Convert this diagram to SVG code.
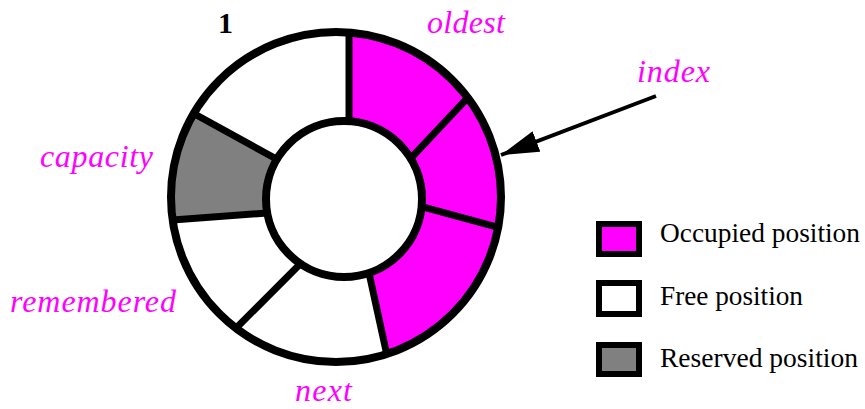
<svg xmlns="http://www.w3.org/2000/svg" width="865" height="409" viewBox="0 0 865 409">
<style>
.lbl{font-family:"Liberation Serif","Times New Roman",serif;font-style:italic;font-size:32px;fill:#ff00ff}
.leg{font-family:"Liberation Serif","Times New Roman",serif;font-size:27px;fill:#000}
.ring{stroke:#000;stroke-width:8;stroke-linejoin:round}
.div{stroke:#000;stroke-width:7;fill:none}
.box{stroke:#000;stroke-width:6}
</style>
<defs>
<marker id="ah" markerUnits="userSpaceOnUse" markerWidth="38" markerHeight="22" viewBox="0 0 38 22" refX="38" refY="11" orient="auto">
<path d="M0,0 L38,11 L0,22 Z" fill="#000"/>
</marker>
</defs>
<rect width="865" height="409" fill="#fff"/>
<g id="buffer">
<circle cx="336" cy="197" r="165" fill="#fff"/>
<path id="occupied" d="M349,32.5 A165,165 0 0 1 386.7,354 L369,272.9 A78,78 0 0 0 349,121.2 Z" fill="#ff00ff"/>
<path id="reserved" d="M172.6,220 A165,165 0 0 1 193.7,113.5 L276.9,159.3 A78,78 0 0 0 267.3,212.9 Z" fill="#808080"/>
<circle class="ring" cx="336" cy="197" r="165" fill="none"/>
<circle class="ring" cx="344" cy="199" r="78" fill="#fff"/>
<line class="div" x1="349" y1="32.5" x2="349" y2="121.2"/>
<line class="div" x1="467.8" y1="97.7" x2="410.6" y2="158.5"/>
<line class="div" x1="498.2" y1="227.4" x2="421.6" y2="206.6"/>
<line class="div" x1="386.7" y1="354" x2="369" y2="272.9"/>
<line class="div" x1="236" y1="328.2" x2="300.4" y2="263.7"/>
<line class="div" x1="172.6" y1="220" x2="267.3" y2="212.9"/>
<line class="div" x1="193.7" y1="113.5" x2="276.9" y2="159.3"/>
</g>
<g id="connectors">
<line x1="656" y1="96" x2="501" y2="155" stroke="#000" stroke-width="4" marker-end="url(#ah)"/>
</g>
<g id="labels">
<text x="218" y="33" font-family="Liberation Serif, serif" font-weight="bold" font-size="30">1</text>
<text class="lbl" x="427" y="33" textLength="78" lengthAdjust="spacing">oldest</text>
<text class="lbl" x="637" y="82" textLength="73" lengthAdjust="spacing">index</text>
<text class="lbl" x="40" y="167" textLength="113" lengthAdjust="spacing">capacity</text>
<text class="lbl" x="10" y="312" textLength="166" lengthAdjust="spacing">remembered</text>
<text class="lbl" x="295" y="401" textLength="57" lengthAdjust="spacing">next</text>
</g>
<g id="legend-occupied">
<rect class="box" x="599" y="224" width="40" height="30" fill="#ff00ff"/>
<text class="leg" x="660" y="242" textLength="200" lengthAdjust="spacingAndGlyphs">Occupied position</text>
</g>
<g id="legend-free">
<rect class="box" x="599" y="283" width="40" height="31" fill="#fff"/>
<text class="leg" x="660" y="305" textLength="143" lengthAdjust="spacingAndGlyphs">Free position</text>
</g>
<g id="legend-reserved">
<rect class="box" x="599" y="345" width="40" height="29" fill="#808080"/>
<text class="leg" x="660" y="367" textLength="198" lengthAdjust="spacingAndGlyphs">Reserved position</text>
</g>
</svg>
